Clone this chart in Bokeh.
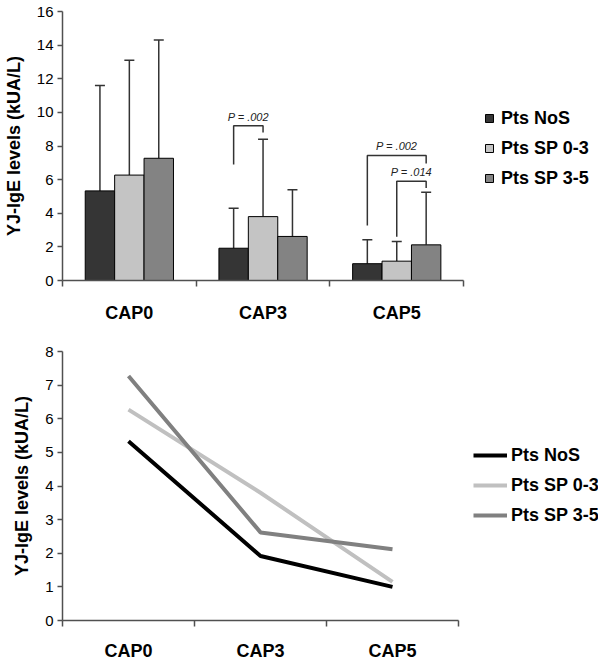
from bokeh.plotting import figure
from bokeh.layouts import column
from bokeh.models import (Range1d, FixedTicker, Legend, LegendItem,
                          ColumnDataSource, Whisker, TeeHead)
from bokeh.core.properties import value
from bokeh.embed import file_html
from bokeh.resources import INLINE

# ---------------- data ----------------
categories = ["CAP0", "CAP3", "CAP5"]
series = ["Pts NoS", "Pts SP 0-3", "Pts SP 3-5"]

nos_mean = [5.33, 1.92, 1.00]
sp03_mean = [6.27, 3.80, 1.15]
sp35_mean = [7.27, 2.62, 2.12]

nos_upper = [11.6, 4.3, 2.42]
sp03_upper = [13.1, 8.4, 2.32]
sp35_upper = [14.3, 5.4, 5.25]

y_ticks_top = [0, 2, 4, 6, 8, 10, 12, 14, 16]
y_ticks_bottom = [0, 1, 2, 3, 4, 5, 6, 7, 8]

# p-value brackets: category index, left series, right series,
# left foot, bracket top, right foot (kUA/L), label
p_cat = [1, 2, 2]
p_left = [0, 0, 1]
p_right = [1, 2, 2]
p_left_foot = [6.9, 3.27, 2.6]
p_top = [9.2, 7.44, 5.9]
p_right_foot = [8.8, 6.96, 5.5]
p_labels = ["P = .002", "P = .002", "P = .014"]

means = [nos_mean, sp03_mean, sp35_mean]
uppers = [nos_upper, sp03_upper, sp35_upper]
bar_colors = ["#353535", "#c4c4c4", "#838383"]
line_colors = ["#000000", "#c0c0c0", "#808080"]

FONT = "Liberation Sans"
BAR_W = 0.22
offsets = [-BAR_W, 0.0, BAR_W]
AXIS_COLOR = "#505050"
NCAT = len(categories)

# layout (pixels)
W = 600
LEFT = 62
RIGHT = 2
FRAME_W = W - LEFT - RIGHT
CAT_W_TOP = 133.7     # pixel width of one category band, top chart
CAT_W_BOT = 132.0     # pixel width of one category band, bottom chart


def style(p, yticks, standoff):
    p.xgrid.visible = False
    p.ygrid.visible = False
    p.outline_line_color = None
    p.background_fill_color = "white"
    xa = p.xaxis[0]
    xa.bounds = (0, NCAT)
    xa.ticker = FixedTicker(ticks=[i + 0.5 for i in range(NCAT)],
                            minor_ticks=list(range(NCAT + 1)))
    xa.major_label_overrides = {i + 0.5: c for i, c in enumerate(categories)}
    xa.major_tick_out = 0
    xa.major_tick_in = 0
    xa.minor_tick_out = 6
    xa.minor_tick_in = 0
    xa.minor_tick_line_color = AXIS_COLOR
    xa.minor_tick_line_width = 1.5
    xa.axis_line_color = AXIS_COLOR
    xa.axis_line_width = 1.5
    xa.major_label_text_font = FONT
    xa.major_label_text_font_size = "18px"
    xa.major_label_text_font_style = "bold"
    xa.major_label_text_color = "black"
    xa.major_label_standoff = standoff
    ya = p.yaxis[0]
    ya.ticker = FixedTicker(ticks=yticks, minor_ticks=[])
    ya.major_tick_out = 5
    ya.major_tick_in = 0
    ya.major_tick_line_color = AXIS_COLOR
    ya.major_tick_line_width = 1.5
    ya.axis_line_color = AXIS_COLOR
    ya.axis_line_width = 1.5
    ya.major_label_text_font = FONT
    ya.major_label_text_font_size = "15px"
    ya.major_label_text_color = "black"
    ya.major_label_standoff = 4
    ya.axis_label = "YJ-IgE levels (kUA/L)"
    ya.axis_label_text_font = FONT
    ya.axis_label_text_font_size = "18px"
    ya.axis_label_text_font_style = "bold"
    ya.axis_label_text_color = "black"
    ya.axis_label_standoff = 10


def make_legend(items, loc, gw, standoff):
    return Legend(items=items, location=loc, orientation="vertical",
                  padding=0, margin=0, spacing=0, glyph_width=gw, glyph_height=10,
                  label_height=30, label_standoff=standoff, label_text_font=FONT,
                  label_text_font_size="18px", label_text_font_style="bold",
                  label_text_color="black",
                  background_fill_alpha=0, border_line_color=None)


# ---------------- top: bar chart ----------------
p1 = figure(width=W, height=330, x_range=Range1d(0, FRAME_W / CAT_W_TOP),
            y_range=Range1d(0, 16),
            output_backend="svg", toolbar_location=None,
            min_border_left=LEFT, min_border_right=RIGHT, min_border_top=11,
            min_border_bottom=50)
style(p1, y_ticks_top, 16)

bar_items = []
for k in range(3):
    src = ColumnDataSource(dict(
        x=[i + 0.5 + offsets[k] for i in range(NCAT)],
        top=means[k], upper=uppers[k]))
    r = p1.vbar(x="x", top="top", bottom=0, width=BAR_W, source=src,
                fill_color=bar_colors[k], line_color="black", line_width=1)
    w = Whisker(source=src, base="x", lower="top", upper="upper",
                upper_head=TeeHead(size=10, line_color="#333333", line_width=1.5),
                lower_head=None, line_color="#333333", line_width=1.5)
    p1.add_layout(w)
    bar_items.append(LegendItem(label=series[k], renderers=[r]))

bx, by, tx, ty = [], [], [], []
for c, l, r_, lf, t, rf in zip(p_cat, p_left, p_right, p_left_foot, p_top, p_right_foot):
    xl = c + 0.5 + offsets[l]
    xr = c + 0.5 + offsets[r_]
    bx.append([xl, xl, xr, xr])
    by.append([lf, t, t, rf])
    tx.append((xl + xr) / 2)
    ty.append(t)
p1.multi_line(xs=bx, ys=by, line_color="#333333", line_width=1.5)
p1.text(x=tx, y=ty, text=p_labels, text_align="center", text_baseline="bottom",
        y_offset=-3, text_font=value(FONT), text_font_style="italic",
        text_font_size="11px", text_color="#222222")

p1.add_layout(make_legend(bar_items, (422, 87), 10, 7))

# ---------------- bottom: line chart ----------------
p2 = figure(width=W, height=333, x_range=Range1d(0, FRAME_W / CAT_W_BOT),
            y_range=Range1d(0, 8),
            output_backend="svg", toolbar_location=None,
            min_border_left=LEFT, min_border_right=RIGHT, min_border_top=21,
            min_border_bottom=43)
style(p2, y_ticks_bottom, 14)

line_items = []
for k in range(3):
    r = p2.line(x=[i + 0.5 for i in range(NCAT)], y=means[k],
                line_color=line_colors[k], line_width=4)
    line_items.append(LegendItem(label=series[k], renderers=[r]))

p2.add_layout(make_legend(line_items, (411, 90), 34, 4))

layout = column(p1, p2, spacing=0)
open("out.html", "w").write(file_html(layout, INLINE))
